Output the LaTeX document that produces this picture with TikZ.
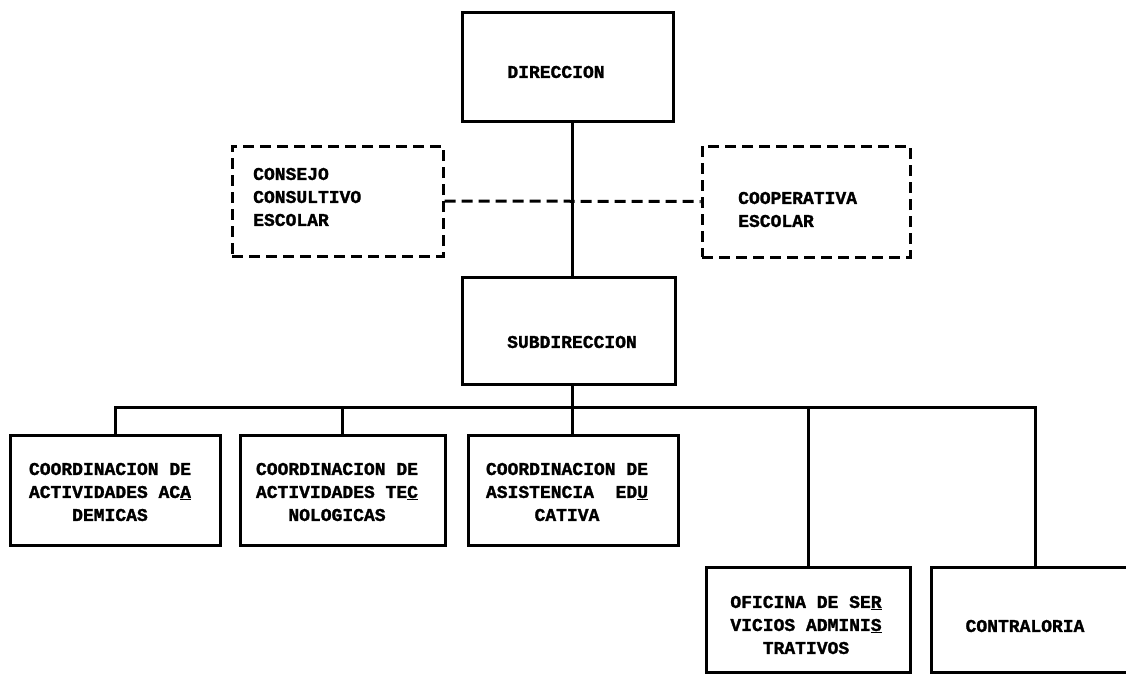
\documentclass[tikz,border=0pt]{standalone}
\usepackage{fontspec}
\newfontfamily\twfont[BoldFeatures={FakeBold=1.5}]{Liberation Mono}
\tikzset{
  box/.style={draw=black, line width=3pt, rectangle, inner sep=0pt},
  dbox/.style={box, dash pattern=on 11pt off 6pt},
  dline/.style={draw=black, line width=3pt, dash pattern=on 11pt off 6pt},
  link/.style={draw=black, line width=3pt},
  txt/.style={font=\twfont\bfseries\fontsize{18}{23}\selectfont, inner sep=0pt, text=black},
}
\begin{document}
\begin{tikzpicture}[x=1pt,y=-1pt]
\useasboundingbox (0,0) rectangle (1126,675);
% boxes
\node[box, minimum width=211pt, minimum height=109pt] (dir) at (567.5,66.5) {};
\node[dbox, minimum width=211pt, minimum height=110pt] (cons) at (337.5,201) {};
\node[dbox, minimum width=208pt, minimum height=111pt] (coop) at (806,201.5) {};
\node[box, minimum width=213pt, minimum height=107pt] (sub) at (568.5,330.5) {};
\node[box, minimum width=210pt, minimum height=110pt] (b1) at (115,490) {};
\node[box, minimum width=205pt, minimum height=110pt] (b2) at (342.5,490) {};
\node[box, minimum width=210pt, minimum height=110pt] (b3) at (573,490) {};
\node[box, minimum width=204pt, minimum height=105pt] (ofi) at (808,619.5) {};
\node[box, minimum width=208pt, minimum height=105pt] (contra) at (1035,619.5) {};
% texts
\node[txt] (dirT) at (556,72) {DIRECCION};
\node[txt, anchor=west, align=left] (consT) at (253,197) {CONSEJO\\CONSULTIVO\\ESCOLAR};
\node[txt, anchor=west, align=left] (coopT) at (738,209.5) {COOPERATIVA\\ESCOLAR};
\node[txt] (subT) at (572,342) {SUBDIRECCION};
\node[txt, align=center] (b1T) at (110,492) {COORDINACION DE\\ACTIVIDADES AC\underline{A}\\DEMICAS};
\node[txt, align=center] (b2T) at (337,492) {COORDINACION DE\\ACTIVIDADES TE\underline{C}\\NOLOGICAS};
\node[txt, align=center] (b3T) at (567,492) {COORDINACION DE\\ASISTENCIA\ \ ED\underline{U}\\CATIVA};
\node[txt, align=center] (ofiT) at (806,625) {OFICINA DE SE\underline{R}\\VICIOS ADMINI\underline{S}\\TRATIVOS};
\node[txt] (contraT) at (1025,626) {CONTRALORIA};
% connectors
\coordinate (bus) at (572,407);
\draw[link] (dir.south -| bus) -- (sub.north -| bus);
\draw[dline] (cons.east) -- (coop.west);
\draw[link] (sub.south -| bus) -- (b3.north -| bus);
\draw[link] (b1.north) |- (bus) -| (contra.north);
\draw[link] (b2.north) -- (b2.north |- bus);
\draw[link] (ofi.north) -- (ofi.north |- bus);
\end{tikzpicture}
\end{document}
